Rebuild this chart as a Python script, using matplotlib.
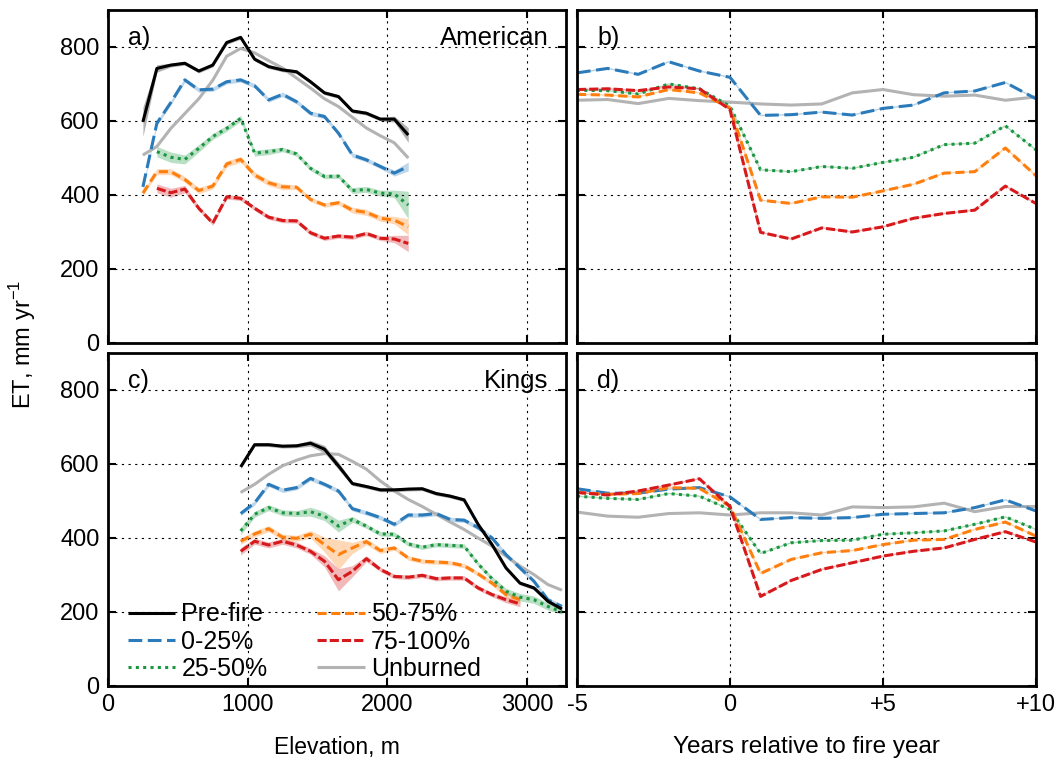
import numpy as np
import matplotlib
matplotlib.use('Agg')
import matplotlib.pyplot as plt

plt.rcParams['font.family'] = ['Liberation Sans', 'DejaVu Sans']
plt.rcParams['font.size'] = 17

nan = np.nan

# ---- panel a: American, ET vs elevation ----
elev_a = [250, 350, 450, 550, 650, 750, 850, 950, 1050, 1150,
          1250, 1350, 1450, 1550, 1650, 1750, 1850, 1950, 2050, 2150]
pre_a = [598, 742, 751, 756, 735, 751, 812, 826, 767, 747,
         738, 733, 706, 676, 666, 627, 621, 605, 605, 562]
b025_a = [422, 594, 650, 711, 684, 686, 706, 711, 695, 657,
          672, 652, 621, 612, 567, 508, 495, 477, 459, 477]
b2550_a = [nan, 517, 502, 496, 526, 558, 580, 607, 513, 517,
           523, 511, 472, 450, 451, 412, 415, 405, 403, 373]
b5075_a = [405, 463, 463, 442, 412, 424, 484, 496, 454, 433,
           422, 421, 388, 373, 379, 359, 353, 337, 332, 314]
b75100_a = [nan, 418, 406, 416, 364, 324, 395, 391, 364, 340,
            331, 330, 298, 283, 289, 286, 296, 283, 281, 269]
unb_a = [508, 531, 580, 620, 660, 710, 775, 796, 784, 763,
         743, 716, 689, 660, 639, 610, 581, 560, 541, 500]
# half-width of shaded spread
pre_a_sd = [40, 10, 5, 5, 5, 5, 5, 5, 5, 5, 5, 5, 5, 5, 5, 5, 5, 5, 8, 20]
b025_a_sd = [6, 6, 6, 6, 6, 6, 6, 6, 6, 6, 6, 6, 6, 6, 6, 6, 6, 6, 8, 12]
b2550_a_sd = [nan, 14, 14, 12, 10, 8, 8, 8, 8, 8, 6, 6, 6, 6, 6, 8, 8, 8, 10, 37]
b5075_a_sd = [6, 8, 8, 8, 8, 8, 8, 8, 8, 8, 8, 6, 6, 6, 6, 8, 8, 8, 10, 22]
b75100_a_sd = [nan, 12, 12, 10, 6, 6, 6, 6, 6, 6, 6, 6, 6, 6, 6, 6, 6, 6, 10, 22]

# ---- panel c: Kings, ET vs elevation ----
elev_c = [950, 1050, 1150, 1250, 1350, 1450, 1550, 1650, 1750, 1850, 1950, 2050,
          2150, 2250, 2350, 2450, 2550, 2650, 2750, 2850, 2950, 3050, 3150, 3250]
pre_c = [592, 652, 652, 648, 649, 656, 640, 595, 547, 539, 530, 530,
         532, 533, 520, 513, 503, 437, 382, 319, 278, 265, 229, 208]
b025_c = [466, 495, 545, 529, 536, 561, 545, 527, 479, 468, 455, 437,
          462, 462, 466, 450, 448, 428, 400, 355, 319, 283, 233, 215]
b2550_c = [419, 464, 482, 468, 466, 471, 459, 432, 450, 432, 411, 410,
           384, 375, 382, 380, 378, 330, 290, 256, 240, 233, 215, 200]
b5075_c = [391, 411, 425, 402, 399, 410, 382, 355, 373, 390, 366, 373,
           346, 337, 335, 333, 325, 303, 278, 247, 233, nan, nan, nan]
b75100_c = [364, 391, 381, 391, 381, 364, 337, 287, 310, 344, 315, 296,
            294, 299, 290, 292, 292, 265, 247, 233, 222, nan, nan, nan]
unb_c = [523, 545, 572, 595, 610, 622, 628, 626, 607, 586, 554, 527,
         504, 485, 464, 443, 423, 400, 378, 351, 324, 301, 274, 259]
pre_c_sd = [5, 5, 5, 5, 5, 8, 10, 10, 5, 5, 5, 5, 5, 5, 5, 5, 5, 5, 5, 5, 5, 5, 5, 5]
b025_c_sd = [6, 6, 6, 6, 6, 6, 6, 6, 6, 6, 6, 6, 6, 6, 6, 6, 6, 6, 6, 6, 6, 6, 6, 6]
b2550_c_sd = [10, 8, 8, 8, 8, 12, 12, 16, 8, 6, 6, 6, 6, 6, 6, 6, 6, 6, 6, 8, 10, 10, 10, 6]
b5075_c_sd = [8, 8, 8, 8, 8, 10, 20, 40, 15, 8, 8, 6, 6, 6, 6, 6, 6, 6, 6, 8, 8, nan, nan, nan]
b75100_c_sd = [10, 8, 8, 8, 8, 8, 15, 30, 15, 8, 6, 6, 6, 6, 6, 6, 6, 6, 6, 8, 8, nan, nan, nan]

# ---- panels b, d: ET vs years relative to fire ----
years = [-5, -4, -3, -2, -1, 0, 1, 2, 3, 4, 5, 6, 7, 8, 9, 10]
b025_b = [730, 742, 726, 760, 735, 718, 615, 617, 624, 616, 634, 643, 676, 681, 704, 660]
b2550_b = [683, 682, 673, 700, 687, 640, 468, 463, 477, 472, 488, 502, 536, 540, 587, 522]
b5075_b = [672, 670, 665, 685, 676, 635, 386, 377, 395, 394, 411, 429, 459, 463, 527, 452]
b75100_b = [685, 687, 682, 692, 687, 631, 299, 281, 311, 300, 314, 337, 350, 359, 424, 377]
unb_b = [656, 658, 647, 661, 655, 651, 646, 643, 646, 676, 685, 671, 667, 670, 656, 665]

b025_d = [533, 521, 521, 532, 536, 511, 450, 455, 453, 455, 464, 466, 468, 482, 503, 473]
b2550_d = [513, 507, 504, 520, 513, 477, 358, 387, 393, 394, 410, 414, 419, 437, 457, 423]
b5075_d = [523, 518, 520, 536, 534, 486, 304, 342, 360, 366, 382, 394, 396, 423, 443, 405]
b75100_d = [523, 516, 527, 543, 560, 485, 242, 285, 315, 333, 351, 364, 373, 396, 417, 389]
unb_d = [470, 459, 456, 466, 468, 462, 468, 468, 462, 484, 482, 484, 494, 471, 485, 485]

labels = ['Pre-fire', '0-25%', '25-50%', '50-75%', '75-100%', 'Unburned']
colors = ['black', '#2b7bba', '#1a9641', '#ff7f0e', '#d7191c', '#b3b3b3']
dashes = [None, (4.5, 1.8), (1.0, 1.4), (3.0, 1.5), (3.0, 1.0), None]

fig = plt.figure(figsize=(10.61, 7.61), dpi=100)
ax_a = fig.add_axes([0.1018, 0.5493, 0.4317, 0.4376])
ax_b = fig.add_axes([0.5438, 0.5493, 0.4326, 0.4376])
ax_c = fig.add_axes([0.1018, 0.0986, 0.4317, 0.4376])
ax_d = fig.add_axes([0.5438, 0.0986, 0.4326, 0.4376])


def draw(ax, x, y, sd, i, lw=2.2):
    x = np.array(x, dtype=float)
    y = np.array(y, dtype=float)
    if sd is not None:
        sd = np.array(sd, dtype=float)
        ax.fill_between(x, y - sd, y + sd, color=colors[i], alpha=0.3, lw=0)
    else:
        # light under-line like the thin spread in the reference
        ax.plot(x, y, color=colors[i], lw=1.0, alpha=0.35)
    ln, = ax.plot(x, y, color=colors[i], lw=lw, label=labels[i],
                  solid_capstyle='butt', dash_capstyle='butt')
    if dashes[i] is not None:
        ln.set_dashes(dashes[i])
    return ln


# a
draw(ax_a, elev_a, unb_a, None, 5)
draw(ax_a, elev_a, b75100_a, b75100_a_sd, 4)
draw(ax_a, elev_a, b5075_a, b5075_a_sd, 3)
draw(ax_a, elev_a, b2550_a, b2550_a_sd, 2)
draw(ax_a, elev_a, b025_a, b025_a_sd, 1)
draw(ax_a, elev_a, pre_a, pre_a_sd, 0)

# c
h = {}
h[5] = draw(ax_c, elev_c, unb_c, None, 5)
h[4] = draw(ax_c, elev_c, b75100_c, b75100_c_sd, 4)
h[3] = draw(ax_c, elev_c, b5075_c, b5075_c_sd, 3)
h[2] = draw(ax_c, elev_c, b2550_c, b2550_c_sd, 2)
h[1] = draw(ax_c, elev_c, b025_c, b025_c_sd, 1)
h[0] = draw(ax_c, elev_c, pre_c, pre_c_sd, 0)

# b
draw(ax_b, years, unb_b, None, 5)
draw(ax_b, years, b025_b, None, 1)
draw(ax_b, years, b2550_b, None, 2)
draw(ax_b, years, b5075_b, None, 3)
draw(ax_b, years, b75100_b, None, 4)

# d
draw(ax_d, years, unb_d, None, 5)
draw(ax_d, years, b025_d, None, 1)
draw(ax_d, years, b2550_d, None, 2)
draw(ax_d, years, b5075_d, None, 3)
draw(ax_d, years, b75100_d, None, 4)

for ax in [ax_a, ax_b, ax_c, ax_d]:
    ax.set_ylim(0, 900)
    ax.set_yticks([0, 200, 400, 600, 800])
    ax.grid(True, color='black', linestyle=(0, (2, 4)), linewidth=0.8)
    ax.tick_params(direction='in', length=6, width=1.5, top=True, right=True,
                   labelsize=17, pad=6)
    for s in ax.spines.values():
        s.set_linewidth(2)

for ax in [ax_a, ax_c]:
    ax.set_xlim(0, 3280)
    ax.set_xticks([0, 1000, 2000, 3000])
for ax in [ax_b, ax_d]:
    ax.set_xlim(-5, 10)
    ax.set_xticks([-5, 0, 5, 10])
    ax.set_yticklabels([])

ax_a.set_xticklabels([])
ax_b.set_xticklabels([])
ax_d.set_xticklabels(['-5', '0', '+5', '+10'])

ax_c.set_xlabel('Elevation, m', labelpad=14, fontsize=16.5)
ax_d.set_xlabel('Years relative to fire year', labelpad=14, fontsize=17.5)
fig.text(0.021, 0.547, 'ET, mm yr$^{\\mathregular{-1}}$', rotation=90,
         ha='center', va='center', fontsize=17)

ax_a.text(0.044, 0.915, 'a)', transform=ax_a.transAxes, va='center', fontsize=18)
ax_a.text(0.962, 0.915, 'American', transform=ax_a.transAxes, va='center',
          ha='right', fontsize=18.5)
ax_b.text(0.044, 0.915, 'b)', transform=ax_b.transAxes, va='center', fontsize=18)
ax_c.text(0.044, 0.915, 'c)', transform=ax_c.transAxes, va='center', fontsize=18)
ax_c.text(0.962, 0.915, 'Kings', transform=ax_c.transAxes, va='center',
          ha='right', fontsize=18.5)
ax_d.text(0.044, 0.915, 'd)', transform=ax_d.transAxes, va='center', fontsize=18)

ax_c.legend([h[i] for i in range(6)], labels, ncol=2, loc='lower left',
            bbox_to_anchor=(0.01, -0.03), frameon=False, fontsize=18,
            handlelength=1.9, handletextpad=0.25, columnspacing=2.0,
            labelspacing=0.13, borderaxespad=0.2)

fig.savefig('out.png', dpi=100)
